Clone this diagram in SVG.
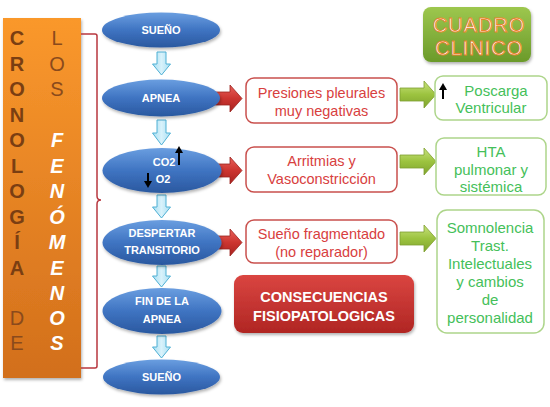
<svg xmlns="http://www.w3.org/2000/svg" width="550" height="407" viewBox="0 0 550 407">
<defs>
<linearGradient id="gBlue" x1="0" y1="0" x2="0" y2="1"><stop offset="0" stop-color="#6A9EE0"/><stop offset="0.5" stop-color="#3F74C2"/><stop offset="1" stop-color="#2A589F"/></linearGradient>
<linearGradient id="gOrange" x1="0" y1="0" x2="0" y2="1"><stop offset="0" stop-color="#FA982C"/><stop offset="1" stop-color="#D26F1C"/></linearGradient>
<linearGradient id="gRed" x1="0" y1="0" x2="0" y2="1"><stop offset="0" stop-color="#E8605A"/><stop offset="0.5" stop-color="#CC3530"/><stop offset="1" stop-color="#A8221F"/></linearGradient>
<linearGradient id="gRedBox" x1="0" y1="0" x2="0" y2="1"><stop offset="0" stop-color="#DA4541"/><stop offset="1" stop-color="#B02623"/></linearGradient>
<linearGradient id="gGreenArr" x1="0" y1="0" x2="0" y2="1"><stop offset="0" stop-color="#C8E27E"/><stop offset="0.5" stop-color="#9CC33F"/><stop offset="1" stop-color="#7FA42E"/></linearGradient>
<linearGradient id="gGreenBox" x1="0" y1="0" x2="0" y2="1"><stop offset="0" stop-color="#9DC74E"/><stop offset="1" stop-color="#6B9A2A"/></linearGradient>
<linearGradient id="gDown" x1="0" y1="0" x2="1" y2="0"><stop offset="0" stop-color="#A8DEF2"/><stop offset="0.5" stop-color="#D8F2FB"/><stop offset="1" stop-color="#A8DEF2"/></linearGradient>
<filter id="sh" x="-20%" y="-20%" width="140%" height="150%"><feDropShadow dx="1" dy="2" stdDeviation="1.5" flood-color="#000" flood-opacity="0.3"/></filter>
<style>
.ell{fill:url(#gBlue);filter:url(#sh)}
.et{font-family:"Liberation Sans",Arial,sans-serif;font-weight:bold;font-size:11px;fill:#fff;text-anchor:middle}
.rb{fill:#fff;stroke:#C9504D;stroke-width:1.5}
.rt{font-family:"Liberation Sans",Arial,sans-serif;font-size:14.5px;fill:#D8403E;text-anchor:middle}
.gb{fill:#fff;stroke:#ADD58A;stroke-width:1.5}
.gt{font-family:"Liberation Sans",Arial,sans-serif;font-size:15px;fill:#45BF5A;text-anchor:middle}
.lb{font-family:"Liberation Sans",Arial,sans-serif;font-size:20px;font-weight:bold;fill:#7A3E12;text-anchor:middle}
.ln{font-family:"Liberation Sans",Arial,sans-serif;font-size:20px;fill:#8A4A1C;text-anchor:middle}
.lw{font-family:"Liberation Sans",Arial,sans-serif;font-size:20px;font-weight:bold;font-style:italic;fill:#fff;text-anchor:middle}
.down{fill:url(#gDown);stroke:#4FB0D4;stroke-width:1}
.ra{fill:url(#gRed);stroke:#9A2420;stroke-width:0.8}
.ga{fill:url(#gGreenArr);stroke:#7FA030;stroke-width:0.8}
.blk{stroke:#000;stroke-width:2;fill:none}
.ct{font-family:"Liberation Sans",Arial,sans-serif;font-size:20px;letter-spacing:1px;fill:#fff;stroke:#E8822A;stroke-width:0.9;text-anchor:middle}
</style>
</defs>
<rect width="550" height="407" fill="#fff"/>

<g id="cronologia">
<rect x="3" y="18" width="78" height="360" fill="url(#gOrange)" filter="url(#sh)"/>
<text class="lb" x="17" y="45">C</text>
<text class="lb" x="17" y="71">R</text>
<text class="lb" x="17" y="96">O</text>
<text class="lb" x="17" y="122">N</text>
<text class="lb" x="17" y="147">O</text>
<text class="lb" x="17" y="173">L</text>
<text class="lb" x="17" y="198">O</text>
<text class="lb" x="17" y="224">G</text>
<text class="lb" x="17" y="249">Í</text>
<text class="lb" x="17" y="275">A</text>
<text class="ln" x="17" y="325">D</text>
<text class="ln" x="17" y="350">E</text>
<text class="ln" x="57" y="45">L</text>
<text class="ln" x="57" y="71">O</text>
<text class="ln" x="57" y="96">S</text>
<text class="lw" x="57" y="147">F</text>
<text class="lw" x="57" y="173">E</text>
<text class="lw" x="57" y="198">N</text>
<text class="lw" x="57" y="224">Ó</text>
<text class="lw" x="57" y="249">M</text>
<text class="lw" x="57" y="275">E</text>
<text class="lw" x="57" y="300">N</text>
<text class="lw" x="57" y="325">O</text>
<text class="lw" x="57" y="350">S</text>
</g>

<g id="connectors">
<path d="M81,34 H95 Q97,34 97,36 V196 Q97,200 101,200 Q97,200 97,204 V366 Q97,368 95,368 H81" fill="none" stroke="#B8373F" stroke-width="1.5"/>
<path class="down" d="M157,52 H166 V64 H170.5 L161.5,75 L152.5,64 H157 Z"/>
<path class="down" d="M157,120 H166 V133 H170.5 L161.5,145 L152.5,133 H157 Z"/>
<path class="down" d="M157,195 H166 V207 H170.5 L161.5,218 L152.5,207 H157 Z"/>
<path class="down" d="M157,266 H166 V276 H170.5 L161.5,287 L152.5,276 H157 Z"/>
<path class="down" d="M157,336 H166 V347 H170.5 L161.5,358 L152.5,347 H157 Z"/>
<path class="ra" d="M205,92 H230 V85 L242,98.5 L230,112 V105 H205 Z"/>
<path class="ra" d="M205,164 H230 V157 L242,170.5 L230,184 V177 H205 Z"/>
<path class="ra" d="M205,236 H230 V229 L242,242.5 L230,256 V249 H205 Z"/>
<path class="ga" d="M400,88 H424 V81 L436,94.5 L424,108 V101 H400 Z"/>
<path class="ga" d="M400,155 H424 V148 L436,161.5 L424,175 V168 H400 Z"/>
<path class="ga" d="M400,232 H424 V225 L436,238.5 L424,252 V245 H400 Z"/>
</g>

<g id="sueno1"><ellipse class="ell" cx="161" cy="30" rx="59" ry="17.5"/><text class="et" x="161" y="34">SUEÑO</text></g>
<g id="apnea"><ellipse class="ell" cx="161" cy="98" rx="59" ry="18.5"/><text class="et" x="161" y="102">APNEA</text></g>
<g id="co2"><ellipse class="ell" cx="162" cy="170.5" rx="59.5" ry="22.5"/><text class="et" x="164" y="166">CO2</text><text class="et" x="163" y="183">O2</text>
<path class="blk" d="M179,165 V149"/><path d="M175,153 L179,146 L183,153 Z"/>
<path class="blk" d="M148,173 V184"/><path d="M144,181 L148,188 L152,181 Z"/></g>
<g id="despertar"><ellipse class="ell" cx="162" cy="242.5" rx="59.5" ry="22.5"/><text class="et" x="162" y="237">DESPERTAR</text><text class="et" x="162" y="254">TRANSITORIO</text></g>
<g id="fin"><ellipse class="ell" cx="162" cy="311" rx="59.5" ry="23"/><text class="et" x="162" y="305">FIN DE LA</text><text class="et" x="162" y="323">APNEA</text></g>
<g id="sueno2"><ellipse class="ell" cx="161.5" cy="377" rx="58.5" ry="17.5"/><text class="et" x="161.5" y="381">SUEÑO</text></g>

<g id="presiones"><rect class="rb" x="246" y="78" width="151" height="45" rx="8"/><text class="rt" x="321.5" y="98">Presiones pleurales</text><text class="rt" x="321.5" y="116">muy negativas</text></g>
<g id="arritmias"><rect class="rb" x="246" y="147" width="151" height="45" rx="8"/><text class="rt" x="321.5" y="166">Arritmias y</text><text class="rt" x="321.5" y="184">Vasoconstricción</text></g>
<g id="fragmentado"><rect class="rb" x="246" y="220" width="151" height="43" rx="8"/><text class="rt" x="321.5" y="239">Sueño fragmentado</text><text class="rt" x="321.5" y="257">(no reparador)</text></g>
<g id="consecuencias"><rect x="234" y="275" width="180" height="58" rx="9" fill="url(#gRedBox)" filter="url(#sh)"/><text x="324" y="302" font-family="Liberation Sans, Arial, sans-serif" font-size="14.5" font-weight="bold" fill="#fff" text-anchor="middle">CONSECUENCIAS</text><text x="324" y="321" font-family="Liberation Sans, Arial, sans-serif" font-size="14.5" font-weight="bold" fill="#fff" text-anchor="middle">FISIOPATOLOGICAS</text></g>

<g id="cuadro"><rect x="423" y="7" width="108" height="55" rx="8" fill="url(#gGreenBox)" filter="url(#sh)"/><text class="ct" x="479" y="32">CUADRO</text><text class="ct" x="479" y="55">CLINICO</text></g>

<g id="poscarga"><rect class="gb" x="435" y="76" width="112" height="44" rx="8"/>
<path class="blk" d="M443,99 V86"/><path d="M439,90 L443,83 L447,90 Z"/>
<text class="gt" x="496" y="95.5">Poscarga</text><text class="gt" x="491" y="113">Ventricular</text></g>
<g id="hta"><rect class="gb" x="436" y="138" width="110" height="57" rx="8"/><text class="gt" x="491" y="157">HTA</text><text class="gt" x="491" y="175">pulmonar y</text><text class="gt" x="491" y="192">sistémica</text></g>
<g id="somnolencia"><rect class="gb" x="437" y="210" width="107" height="123" rx="10"/><text class="gt" x="490" y="232.5">Somnolencia</text><text class="gt" x="490" y="250.5">Trast.</text><text class="gt" x="490" y="268.5">Intelectuales</text><text class="gt" x="490" y="286.5">y cambios</text><text class="gt" x="490" y="304.5">de</text><text class="gt" x="490" y="322.5">personalidad</text></g>
</svg>
